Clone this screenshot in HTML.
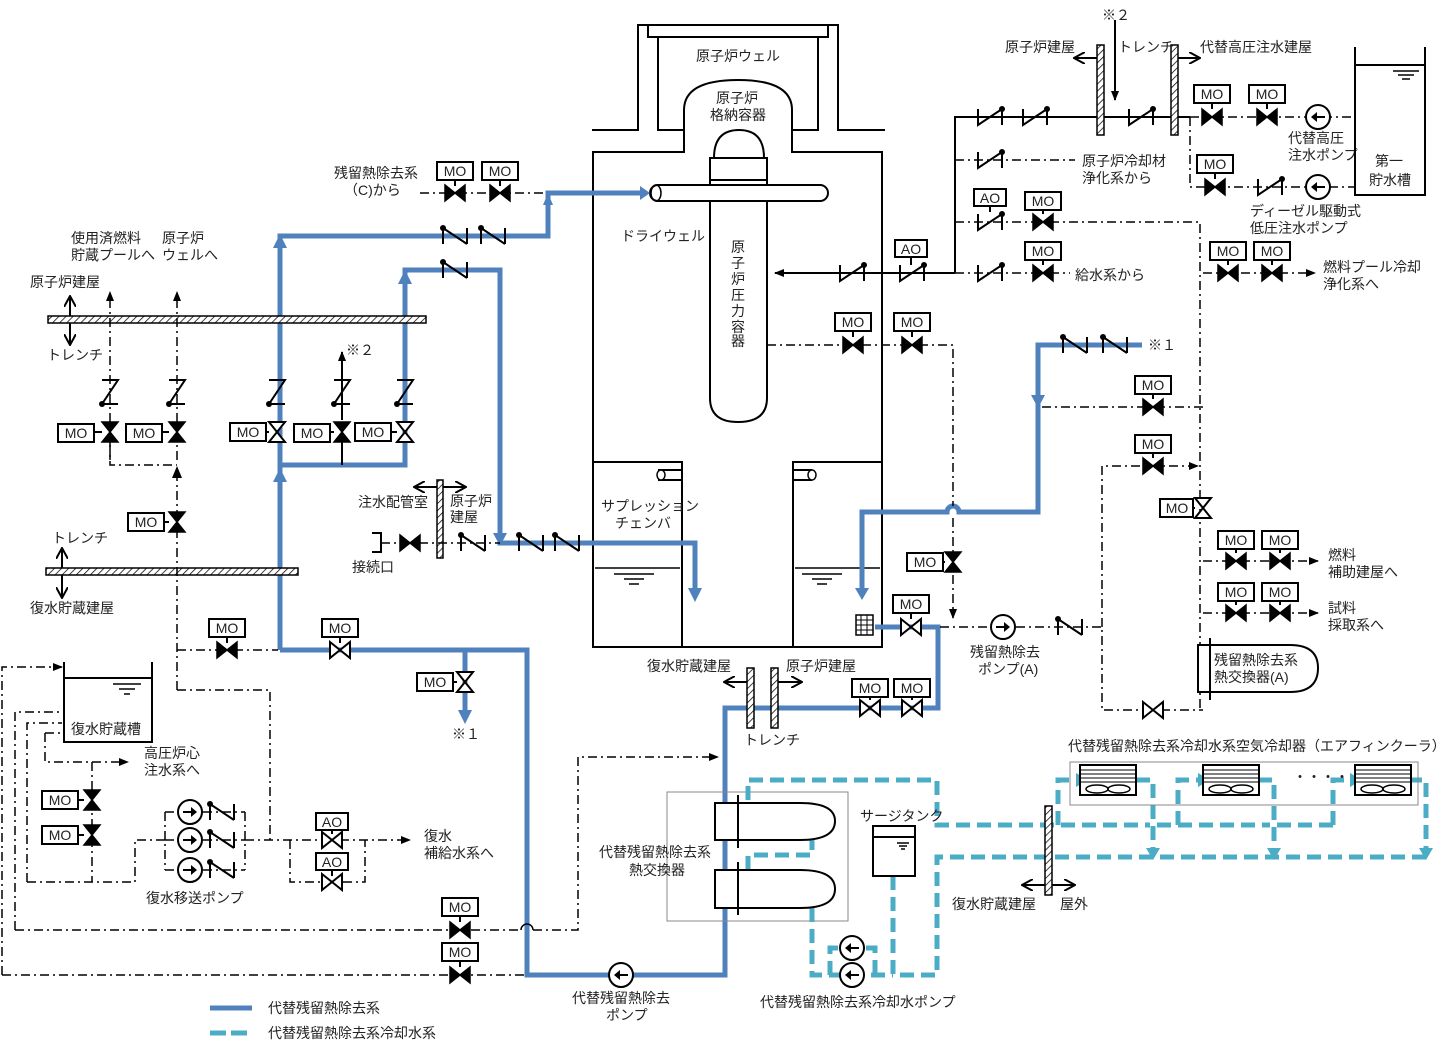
<!DOCTYPE html>
<html><head><meta charset="utf-8"><style>
body{margin:0;background:#fff}
svg{display:block}
text{font-family:"Liberation Sans","Noto Sans CJK JP",sans-serif;font-size:14px;fill:#222}
.mo{font-size:14px;text-anchor:middle}
.b{fill:none;stroke:#4f81bd;stroke-width:5}
.c{fill:none;stroke:#4bacc6;stroke-width:5;stroke-dasharray:14 7}
.d{fill:none;stroke:#000;stroke-width:1.5;stroke-dasharray:9 4 2 4}
.s{fill:none;stroke:#000;stroke-width:2}
.bx{fill:#fff;stroke:#000;stroke-width:2}
</style></head><body>
<svg width="1444" height="1052" viewBox="0 0 1444 1052" xmlns="http://www.w3.org/2000/svg">
<defs>
<pattern id="h" width="5" height="5" patternUnits="userSpaceOnUse" patternTransform="rotate(45)"><rect width="5" height="5" fill="#fff"/><line x1="0" y1="0" x2="0" y2="5" stroke="#000" stroke-width="1.5"/></pattern>
<g id="vc"><path d="M-10,-8 L10,8 L10,-8 L-10,8 Z" fill="#000" stroke="#000" stroke-width="1.5"/></g>
<g id="vo"><path d="M-10,-8 L10,8 L10,-8 L-10,8 Z" fill="#fff" stroke="#000" stroke-width="2"/></g>
<g id="vcv"><path d="M-8,-10 L8,10 L-8,10 L8,-10 Z" fill="#000" stroke="#000" stroke-width="1.5"/></g>
<g id="vov"><path d="M-8,-10 L8,10 L-8,10 L8,-10 Z" fill="#fff" stroke="#000" stroke-width="2"/></g>
<g id="ck"><path d="M-12,8 L-12,-8 L12,8 M12,-8 L12,8" fill="none" stroke="#000" stroke-width="2"/><circle cx="-12" cy="-8" r="3"/></g>
<g id="ckr"><path d="M-12,-8 L-12,8 L12,-8 L12,8" fill="none" stroke="#000" stroke-width="2"/><circle cx="12" cy="-8" r="3"/></g>
<g id="ckv"><path d="M-8,-12 L8,-12 L-8,12 L8,12" fill="none" stroke="#000" stroke-width="2"/><circle cx="-8" cy="12" r="3"/></g>
<g id="pr"><circle r="12" fill="#fff" stroke="#000" stroke-width="2"/><path d="M-7,0 L5,0" stroke="#000" stroke-width="2"/><path d="M7,0 L1,-5 L1,5 Z"/></g>
<g id="pl"><circle r="12" fill="#fff" stroke="#000" stroke-width="2"/><path d="M-5,0 L7,0" stroke="#000" stroke-width="2"/><path d="M-7,0 L-1,-5 L-1,5 Z"/></g>
<marker id="ab" markerWidth="4" markerHeight="4" refX="2" refY="2" orient="auto" markerUnits="strokeWidth"><path d="M0,0 L4,2 L0,4Z" fill="#4f81bd"/></marker>
<marker id="ak" markerWidth="10" markerHeight="8" refX="9" refY="4" orient="auto" markerUnits="userSpaceOnUse"><path d="M0,0 L10,4 L0,8Z" fill="#000"/></marker>
<marker id="ac" markerWidth="4" markerHeight="4" refX="2" refY="2" orient="auto" markerUnits="strokeWidth"><path d="M0,0 L4,2 L0,4Z" fill="#4bacc6"/></marker>
<marker id="ao" markerWidth="12" markerHeight="12" refX="11" refY="6" orient="auto" markerUnits="userSpaceOnUse"><path d="M0,0 L11,6 L0,12" fill="none" stroke="#000" stroke-width="2"/></marker>
</defs>

<!-- Reactor building -->
<path class="s" d="M592,130 H638 V25 H838 V130 H885"/>
<rect class="bx" x="648" y="25" width="180" height="12"/>
<path class="s" d="M658,37 V130 H684 M818,37 V130 H792"/>
<path class="s" d="M593,152 V647 H882 V152 H792 V110 Q792,80 738,80 Q684,80 684,110 V152 Z" fill="#fff"/>
<text x="696" y="61">原子炉ウェル</text>
<text x="716" y="103">原子炉</text><text x="710" y="120">格納容器</text>
<path class="s" d="M714,158 Q714,130 739,130 Q764,130 764,158" />
<rect class="bx" x="710" y="158" width="57" height="22"/>
<path class="s" d="M710,180 V398 Q710,422 738,422 Q767,422 767,398 V180"/>
<rect x="650" y="185" width="178" height="16" rx="8" fill="#fff" stroke="#000" stroke-width="2"/>
<ellipse cx="656" cy="193" rx="5" ry="8" fill="none" stroke="#000" stroke-width="1.5"/>
<rect x="711" y="184" width="55" height="18" fill="#fff"/>
<path class="s" d="M710,185 H767 M710,201 H767"/>
<text x="621" y="241">ドライウェル</text>
<g font-size="14"><text x="731" y="252">原</text><text x="731" y="268">子</text><text x="731" y="284">炉</text><text x="731" y="300">圧</text><text x="731" y="316">力</text><text x="731" y="332">容</text><text x="731" y="346">器</text></g>
<path class="s" d="M593,462 H682 V647 M793,647 V462 H882"/>
<path class="s" d="M658,470 H682 M658,480 H682 M793,470 H812 M793,480 H812"/>
<ellipse cx="661" cy="475" rx="4" ry="5" fill="#fff" stroke="#000" stroke-width="1.5"/>
<ellipse cx="812" cy="475" rx="4" ry="5" fill="#fff" stroke="#000" stroke-width="1.5"/>
<path d="M595,568 H680 M795,568 H880 M614,574 H654 M624,579 H644 M629,584 H639 M802,574 H842 M812,579 H832 M817,584 H827" stroke="#000" stroke-width="1.5"/>
<text x="601" y="511">サプレッション</text><text x="615" y="528">チェンバ</text>

<!-- Blue lines -->
<path class="b" d="M280,650 V236 H548 V193 H640" />
<path d="M640,186 L650,193 L640,200Z" fill="#4f81bd"/>
<path d="M273,248 L280,234 L287,248Z M273,482 L280,468 L287,482Z M398,284 L405,270 L412,284Z M543,205 L548,193 L553,205Z" fill="#4f81bd"/>
<path class="b" d="M280,465 H405 V270 H500 V543 H695 V590"/>
<path d="M688,588 L695,602 L702,588Z M493,533 L500,546 L507,533Z" fill="#4f81bd"/>
<path class="b" d="M280,650 H527 V975 H725 V708 H938 V627 H875"/>
<path class="b" d="M465,650 V712"/>
<path d="M458,710 L465,724 L472,710Z" fill="#4f81bd"/>
<path class="b" d="M862,590 V512 H947 A6,6 0 0 1 959,512 H1038 V345 H1142"/>
<path d="M855,588 L862,600 L869,588Z M1031,395 L1038,408 L1045,395Z" fill="#4f81bd"/>
<rect x="856" y="615" width="17" height="20" fill="#fff" stroke="#000" stroke-width="1.5"/>
<path d="M856,620 H873 M856,625 H873 M856,630 H873 M861,615 V635 M867,615 V635" stroke="#000" stroke-width="1"/>

<!-- Heat exchanger -->
<rect x="667" y="792" width="181" height="129" fill="none" stroke="#888" stroke-width="1"/>
<path class="c" d="M748,800 V780 H937 V825 H1150 M1157,825 H1270 M1277,825 H1333 M1058,825 V780 H1078 M1178,825 V780 H1200 M1333,825 V780 H1352"/>
<path class="c" d="M1136,780 H1153 V850 M1258,780 H1274 V850 M1408,780 H1426 V850 M1426,857 H937 V975 H893 M893,876 V975 M812,908 V975 H893 M748,870 V855 H812 V840"/>
<path class="c" d="M830,975 V948 H875 V975"/>
<path d="M1146,848 L1153,860 L1160,848Z M1267,848 L1274,860 L1281,848Z M1419,848 L1426,860 L1433,848Z M1076,773 L1088,780 L1076,787Z M1198,773 L1210,780 L1198,787Z M1350,773 L1362,780 L1350,787Z" fill="#4bacc6"/>
<path d="M715,803 H800 Q835,803 835,821 Q835,840 800,840 H715 Z" fill="#fff" stroke="#000" stroke-width="2"/>
<path d="M715,870 H800 Q835,870 835,889 Q835,908 800,908 H715 Z" fill="#fff" stroke="#000" stroke-width="2"/>
<path class="s" d="M738,795 V848 M738,862 V915"/>
<text x="599" y="857">代替残留熱除去系</text><text x="629" y="875">熱交換器</text>
<rect class="bx" x="873" y="826" width="42" height="50"/><path class="s" d="M873,837 H915"/>
<path d="M897,843 H909 M899,846 H907 M901,849 H905" stroke="#000" stroke-width="1.5"/>
<text x="860" y="821">サージタンク</text>
<use href="#pl" x="852" y="948"/><use href="#pl" x="852" y="975"/>
<text x="760" y="1007">代替残留熱除去系冷却水ポンプ</text>
<use href="#pl" x="621" y="975"/>
<text x="572" y="1003">代替残留熱除去</text><text x="606" y="1020">ポンプ</text>

<!-- Air fin coolers -->
<rect x="1070" y="762" width="348" height="43" fill="none" stroke="#888" stroke-width="1"/>
<g id="cool"><rect x="1080" y="765" width="56" height="30" fill="#fff" stroke="#000" stroke-width="2"/><path d="M1081,770 H1135 M1081,774 H1135 M1081,778 H1135 M1081,782 H1135" stroke="#000" stroke-width="1"/><ellipse cx="1097" cy="789" rx="11" ry="4" fill="none" stroke="#000" stroke-width="1.5"/><ellipse cx="1119" cy="789" rx="11" ry="4" fill="none" stroke="#000" stroke-width="1.5"/></g>
<use href="#cool" x="123"/><use href="#cool" x="275"/>
<text x="1293" y="782">・・・・</text>
<text x="1068" y="751">代替残留熱除去系冷却水系空気冷却器（エアフィンクーラ）</text>
<rect x="1045" y="806" width="7" height="89" fill="url(#h)" stroke="#000" stroke-width="1.5"/>
<path class="s" d="M1045,885 H1022 M1052,885 H1075" marker-end="url(#ao)"/>
<path class="s" d="M1045,885 H1022" marker-end="url(#ao)"/>
<text x="952" y="909">復水貯蔵建屋</text><text x="1060" y="909">屋外</text>

<!-- Trench dividers -->
<rect x="48" y="316" width="378" height="7" fill="url(#h)" stroke="#000" stroke-width="1.5"/>
<rect x="46" y="568" width="252" height="7" fill="url(#h)" stroke="#000" stroke-width="1.5"/>
<rect x="437" y="480" width="6" height="78" fill="url(#h)" stroke="#000" stroke-width="1.5"/>
<rect x="1097" y="45" width="7" height="90" fill="url(#h)" stroke="#000" stroke-width="1.5"/>
<rect x="1171" y="45" width="7" height="90" fill="url(#h)" stroke="#000" stroke-width="1.5"/>
<rect x="747" y="668" width="7" height="60" fill="url(#h)" stroke="#000" stroke-width="1.5"/>
<rect x="771" y="668" width="7" height="60" fill="url(#h)" stroke="#000" stroke-width="1.5"/>
<path class="s" d="M70,316 V296" marker-end="url(#ao)"/><path class="s" d="M70,323 V345" marker-end="url(#ao)"/>
<text x="30" y="287">原子炉建屋</text><text x="47" y="360">トレンチ</text>
<path class="s" d="M62,568 V548" marker-end="url(#ao)"/><path class="s" d="M62,575 V598" marker-end="url(#ao)"/>
<text x="52" y="543">トレンチ</text><text x="30" y="613">復水貯蔵建屋</text>
<path class="s" d="M437,487 H414" marker-end="url(#ao)"/><path class="s" d="M443,487 H466" marker-end="url(#ao)"/>
<text x="358" y="507">注水配管室</text><text x="450" y="506">原子炉</text><text x="450" y="522">建屋</text>
<path class="s" d="M1097,58 H1074" marker-end="url(#ao)"/><path class="s" d="M1178,58 H1200" marker-end="url(#ao)"/>
<text x="1005" y="52">原子炉建屋</text><text x="1118" y="52">トレンチ</text><text x="1200" y="52">代替高圧注水建屋</text>
<path class="s" d="M747,682 H724" marker-end="url(#ao)"/><path class="s" d="M778,682 H802" marker-end="url(#ao)"/>
<text x="647" y="671">復水貯蔵建屋</text><text x="786" y="671">原子炉建屋</text><text x="744" y="745">トレンチ</text>

<!-- Left dash-dot system -->
<path class="d" d="M110,460 V292" marker-end="url(#ak)"/>
<path class="d" d="M177,460 V292" marker-end="url(#ak)"/>
<path class="d" d="M110,442 V465 H177 M177,690 V478" />
<path d="M172,478 L177,466 L182,478Z"/>
<text x="71" y="243">使用済燃料</text><text x="71" y="260">貯蔵プールへ</text>
<text x="162" y="243">原子炉</text><text x="162" y="260">ウェルへ</text>
<path class="s" d="M342,420 V352" marker-end="url(#ak)"/><text x="346" y="355">※２</text>
<path class="s" d="M342,442 V465"/>
<use href="#ckv" x="110" y="392"/><use href="#ckv" x="177" y="392"/><use href="#ckv" x="277" y="392"/><use href="#ckv" x="342" y="392"/><use href="#ckv" x="405" y="392"/>
<use href="#vcv" x="110" y="432"/><use href="#vcv" x="177" y="432"/><use href="#vov" x="277" y="432"/><use href="#vcv" x="342" y="432"/><use href="#vov" x="405" y="432"/>
<use href="#vcv" x="177" y="522"/>
<g>
<rect class="bx" x="58" y="424" width="36" height="18"/><text class="mo" x="76" y="438">MO</text><path class="s" d="M94,432 H102"/>
<rect class="bx" x="126" y="424" width="36" height="18"/><text class="mo" x="144" y="438">MO</text><path class="s" d="M162,432 H169"/>
<rect class="bx" x="230" y="423" width="36" height="18"/><text class="mo" x="248" y="437">MO</text><path class="s" d="M266,432 H269"/>
<rect class="bx" x="294" y="424" width="36" height="18"/><text class="mo" x="312" y="438">MO</text><path class="s" d="M330,432 H334"/>
<rect class="bx" x="355" y="423" width="36" height="18"/><text class="mo" x="373" y="437">MO</text><path class="s" d="M391,432 H397"/>
<rect class="bx" x="128" y="513" width="36" height="18"/><text class="mo" x="146" y="527">MO</text><path class="s" d="M164,522 H169"/>
</g>
<!-- Connection port -->
<path class="s" d="M372,533 H381 V552 H372"/>
<path class="d" d="M381,543 H500"/>
<use href="#vc" x="410" y="543"/>
<use href="#ck" x="473" y="543"/>
<text x="352" y="572">接続口</text>
<use href="#ck" x="455" y="236"/><use href="#ck" x="493" y="236"/><use href="#ck" x="455" y="270"/>
<use href="#ck" x="531" y="543"/><use href="#ck" x="567" y="543"/>
<!-- RHR (C) -->
<path class="d" d="M420,193 H545"/>
<use href="#vc" x="455" y="193"/><use href="#vc" x="500" y="193"/>
<rect class="bx" x="437" y="162" width="36" height="18"/><text class="mo" x="455" y="176">MO</text><path class="s" d="M455,180 V186"/>
<rect class="bx" x="482" y="162" width="36" height="18"/><text class="mo" x="500" y="176">MO</text><path class="s" d="M500,180 V186"/>
<text x="334" y="178">残留熱除去系</text><text x="344" y="195">（C)から</text>

<!-- bottom-left -->
<path class="d" d="M177,650 H278"/>
<use href="#vc" x="227" y="650"/><use href="#vo" x="340" y="650"/>
<rect class="bx" x="209" y="619" width="36" height="18"/><text class="mo" x="227" y="633">MO</text><path class="s" d="M227,637 V643"/>
<rect class="bx" x="322" y="619" width="36" height="18"/><text class="mo" x="340" y="633">MO</text><path class="s" d="M340,637 V643"/>
<use href="#vov" x="465" y="682"/>
<rect class="bx" x="417" y="673" width="36" height="18"/><text class="mo" x="435" y="687">MO</text><path class="s" d="M453,682 H457"/>
<text x="452" y="739">※１</text>
<path class="d" d="M177,690 H270 V840"/>
<rect class="bx" x="64" y="662" width="0" height="0"/>
<path class="s" d="M64,662 V742 H152 V662 M64,678 H152"/>
<path d="M113,684 H141 M119,689 H135 M124,694 H130" stroke="#000" stroke-width="1.5"/>
<text x="71" y="734">復水貯蔵槽</text>
<path class="d" d="M2,975 V667 H62" marker-end="url(#ak)"/>
<path class="d" d="M2,975 H527"/>
<path class="d" d="M15,930 V712 H62 M15,930 H521 M533,930 H578 V757 H718" marker-end="url(#ak)"/>
<path d="M521,930 A6,6 0 0 1 533,930" fill="none" stroke="#000" stroke-width="1.5"/>
<path class="d" d="M27,882 V723 H62 M27,882 H135 V840 H165"/>
<path class="d" d="M45,733 H62 M45,733 V762 H128" marker-end="url(#ak)"/>
<text x="144" y="758">高圧炉心</text><text x="144" y="775">注水系へ</text>
<path class="d" d="M92,762 V882"/>
<use href="#vcv" x="92" y="800"/><use href="#vcv" x="92" y="835"/>
<rect class="bx" x="42" y="791" width="36" height="18"/><text class="mo" x="60" y="805">MO</text><path class="s" d="M78,800 H84"/>
<rect class="bx" x="42" y="826" width="36" height="18"/><text class="mo" x="60" y="840">MO</text><path class="s" d="M78,835 H84"/>
<path class="d" d="M165,812 V870 M165,812 H245 M165,840 H245 M165,870 H245 M245,812 V870 M245,840 H410" marker-end="url(#ak)"/>
<use href="#pr" x="190" y="812"/><use href="#pr" x="190" y="840"/><use href="#pr" x="190" y="870"/>
<use href="#ck" x="222" y="812"/><use href="#ck" x="222" y="840"/><use href="#ck" x="222" y="870"/>
<text x="146" y="903">復水移送ポンプ</text>
<path class="d" d="M290,840 V882 H365 V840"/>
<use href="#vo" x="332" y="840"/><use href="#vo" x="332" y="882"/>
<rect class="bx" x="316" y="813" width="32" height="17"/><text class="mo" x="332" y="827">AO</text><path class="s" d="M332,830 V834"/>
<rect class="bx" x="316" y="853" width="32" height="17"/><text class="mo" x="332" y="867">AO</text><path class="s" d="M332,870 V876"/>
<text x="424" y="841">復水</text><text x="424" y="858">補給水系へ</text>
<use href="#vc" x="460" y="930"/><use href="#vc" x="460" y="975"/>
<rect class="bx" x="442" y="898" width="36" height="18"/><text class="mo" x="460" y="912">MO</text><path class="s" d="M460,916 V922"/>
<rect class="bx" x="442" y="943" width="36" height="18"/><text class="mo" x="460" y="957">MO</text><path class="s" d="M460,961 V967"/>

<!-- Legend -->
<path d="M210,1008 H252" stroke="#4f81bd" stroke-width="5"/>
<path d="M210,1033 H252" stroke="#4bacc6" stroke-width="5" stroke-dasharray="16 5"/>
<text x="268" y="1013">代替残留熱除去系</text><text x="268" y="1038">代替残留熱除去系冷却水系</text>

<!-- Top right solid lines -->
<path class="s" d="M955,273 V117 H1097 M1104,117 H1171 M1178,117 H1190"/>
<path class="s" d="M1115,20 V100" marker-end="url(#ak)"/><text x="1102" y="20">※２</text>
<use href="#ckr" x="990" y="117"/><use href="#ckr" x="1035" y="117"/><use href="#ckr" x="1141" y="117"/>
<path class="s" d="M955,273 H775" marker-end="url(#ak)"/>
<use href="#ckr" x="852" y="273"/><use href="#ckr" x="912" y="273"/>
<rect class="bx" x="895" y="240" width="32" height="17"/><text class="mo" x="911" y="254">AO</text><path class="s" d="M911,257 V265"/>
<path class="d" d="M955,160 H1075"/><use href="#ckr" x="990" y="160"/>
<text x="1082" y="166">原子炉冷却材</text><text x="1082" y="183">浄化系から</text>
<path class="d" d="M955,222 H1200 V710"/>
<use href="#ckr" x="990" y="222"/><use href="#vc" x="1043" y="222"/>
<rect class="bx" x="974" y="189" width="32" height="17"/><text class="mo" x="990" y="203">AO</text><path class="s" d="M990,206 V212"/>
<rect class="bx" x="1025" y="192" width="36" height="18"/><text class="mo" x="1043" y="206">MO</text><path class="s" d="M1043,210 V214"/>
<path class="d" d="M955,273 H1070"/>
<use href="#ckr" x="990" y="273"/><use href="#vc" x="1043" y="273"/>
<rect class="bx" x="1025" y="242" width="36" height="18"/><text class="mo" x="1043" y="256">MO</text><path class="s" d="M1043,260 V265"/>
<text x="1075" y="280">給水系から</text>
<path class="d" d="M1190,117 H1355 M1190,117 V187 H1355"/>
<use href="#vc" x="1212" y="117"/><use href="#vc" x="1267" y="117"/><use href="#pl" x="1318" y="117"/>
<use href="#vc" x="1215" y="187"/><use href="#ckr" x="1270" y="187"/><use href="#pl" x="1318" y="187"/>
<rect class="bx" x="1194" y="85" width="36" height="18"/><text class="mo" x="1212" y="99">MO</text><path class="s" d="M1212,103 V109"/>
<rect class="bx" x="1249" y="85" width="36" height="18"/><text class="mo" x="1267" y="99">MO</text><path class="s" d="M1267,103 V109"/>
<rect class="bx" x="1197" y="155" width="36" height="18"/><text class="mo" x="1215" y="169">MO</text><path class="s" d="M1215,173 V179"/>
<text x="1288" y="143">代替高圧</text><text x="1288" y="160">注水ポンプ</text>
<text x="1250" y="216">ディーゼル駆動式</text><text x="1250" y="233">低圧注水ポンプ</text>
<path class="s" d="M1355,47 V195 H1425 V47 M1355,65 H1425"/>
<path d="M1393,71 H1419 M1398,75 H1414 M1402,79 H1410" stroke="#000" stroke-width="1.5"/>
<text x="1375" y="166">第一</text><text x="1369" y="185">貯水槽</text>
<path class="d" d="M1203,273 H1315" marker-end="url(#ak)"/>
<use href="#vc" x="1228" y="273"/><use href="#vc" x="1272" y="273"/>
<rect class="bx" x="1210" y="242" width="36" height="18"/><text class="mo" x="1228" y="256">MO</text><path class="s" d="M1228,260 V265"/>
<rect class="bx" x="1254" y="242" width="36" height="18"/><text class="mo" x="1272" y="256">MO</text><path class="s" d="M1272,260 V265"/>
<text x="1323" y="272">燃料プール冷却</text><text x="1323" y="289">浄化系へ</text>
<use href="#ck" x="1075" y="345"/><use href="#ck" x="1115" y="345"/>
<text x="1148" y="350">※１</text>

<!-- middle dash-dot RHR -->
<path class="d" d="M767,345 H953 V506 M953,518 V618" marker-end="url(#ak)"/>
<use href="#vc" x="853" y="345"/><use href="#vc" x="912" y="345"/>
<rect class="bx" x="835" y="313" width="36" height="18"/><text class="mo" x="853" y="327">MO</text><path class="s" d="M853,331 V337"/>
<rect class="bx" x="894" y="313" width="36" height="18"/><text class="mo" x="912" y="327">MO</text><path class="s" d="M912,331 V337"/>
<use href="#vcv" x="953" y="562"/>
<rect class="bx" x="907" y="553" width="36" height="18"/><text class="mo" x="925" y="567">MO</text><path class="s" d="M943,562 H945"/>
<use href="#vo" x="911" y="627"/>
<rect class="bx" x="893" y="595" width="36" height="18"/><text class="mo" x="911" y="609">MO</text><path class="s" d="M911,613 V619"/>
<use href="#vo" x="870" y="708"/><use href="#vo" x="912" y="708"/>
<rect class="bx" x="852" y="679" width="36" height="18"/><text class="mo" x="870" y="693">MO</text><path class="s" d="M870,697 V700"/>
<rect class="bx" x="894" y="679" width="36" height="18"/><text class="mo" x="912" y="693">MO</text><path class="s" d="M912,697 V700"/>
<path class="d" d="M940,627 H1102 V710 H1203 M1102,627 V466 H1198" marker-end="url(#ak)"/>
<use href="#pr" x="1003" y="627"/><use href="#ck" x="1070" y="627"/>
<text x="970" y="657">残留熱除去</text><text x="978" y="674">ポンプ(A)</text>
<use href="#vo" x="1153" y="710"/>
<path class="d" d="M1042,407 H1203"/>
<use href="#vc" x="1153" y="407"/><use href="#vc" x="1153" y="466"/>
<rect class="bx" x="1135" y="376" width="36" height="18"/><text class="mo" x="1153" y="390">MO</text><path class="s" d="M1153,394 V399"/>
<rect class="bx" x="1135" y="435" width="36" height="18"/><text class="mo" x="1153" y="449">MO</text><path class="s" d="M1153,453 V458"/>
<use href="#vov" x="1203" y="508"/>
<rect class="bx" x="1160" y="499" width="33" height="18"/><text class="mo" x="1177" y="513">MO</text><path class="s" d="M1193,508 H1195"/>
<path class="d" d="M1203,561 H1318" marker-end="url(#ak)"/>
<path class="d" d="M1203,613 H1318" marker-end="url(#ak)"/>
<use href="#vc" x="1236" y="561"/><use href="#vc" x="1280" y="561"/><use href="#vc" x="1236" y="613"/><use href="#vc" x="1280" y="613"/>
<rect class="bx" x="1218" y="531" width="36" height="18"/><text class="mo" x="1236" y="545">MO</text><path class="s" d="M1236,549 V553"/>
<rect class="bx" x="1262" y="531" width="36" height="18"/><text class="mo" x="1280" y="545">MO</text><path class="s" d="M1280,549 V553"/>
<rect class="bx" x="1218" y="583" width="36" height="18"/><text class="mo" x="1236" y="597">MO</text><path class="s" d="M1236,601 V605"/>
<rect class="bx" x="1262" y="583" width="36" height="18"/><text class="mo" x="1280" y="597">MO</text><path class="s" d="M1280,601 V605"/>
<text x="1328" y="560">燃料</text><text x="1328" y="577">補助建屋へ</text>
<text x="1328" y="613">試料</text><text x="1328" y="630">採取系へ</text>
<path d="M1198,645 H1290 Q1318,645 1318,668 Q1318,692 1290,692 H1198 Z" fill="#fff" stroke="#000" stroke-width="2"/>
<path class="s" d="M1210,638 V700"/>
<text x="1214" y="665">残留熱除去系</text><text x="1214" y="682">熱交換器(A)</text>
</svg>
</body></html>
